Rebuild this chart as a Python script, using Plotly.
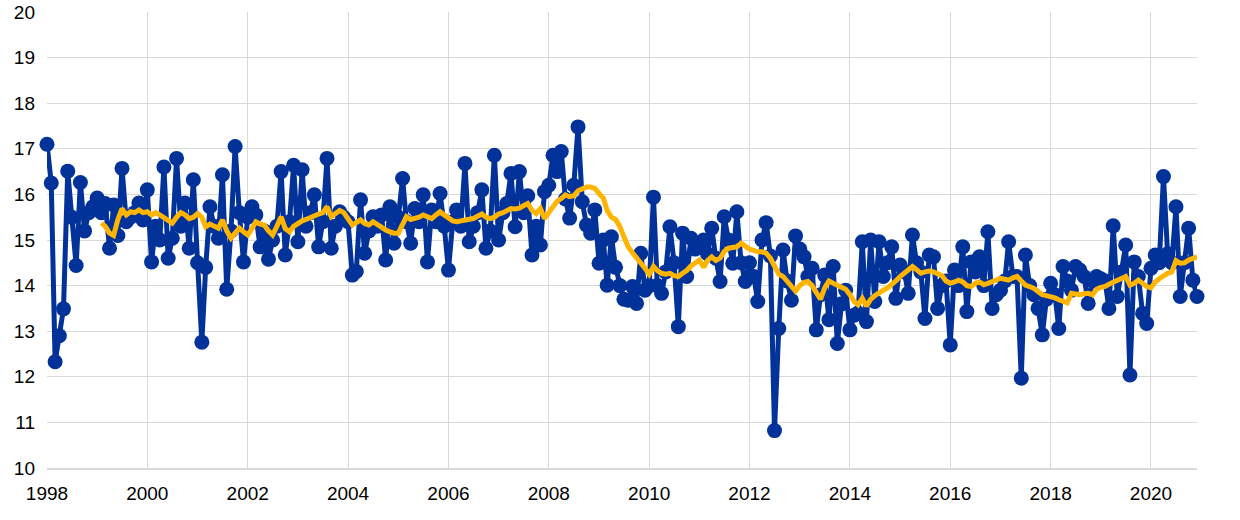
import plotly.graph_objects as go
import pandas as pd

# Monthly observations, Jan 1998 - Dec 2020
series_values = [
    # 1998
    17.1, 16.25, 12.33, 12.9, 13.49, 16.51, 15.5, 14.44, 16.26, 15.2, 15.6, 15.73,
    # 1999
    15.92, 15.6, 15.8, 14.82, 15.77, 15.1, 16.57, 15.4, 15.5, 15.6, 15.81, 15.44,
    # 2000
    16.1, 14.52, 15.3, 15.0, 16.6, 14.6, 15.04, 16.79, 15.3, 15.81, 14.82, 16.32,
    # 2001
    14.5, 12.76, 14.4, 15.73, 15.3, 15.04, 16.43, 13.92, 15.2, 17.05, 15.6, 14.52,
    # 2002
    15.5, 15.73, 15.55, 14.85, 15.2, 14.58, 15.0, 15.3, 16.5, 14.67, 15.4, 16.64,
    # 2003
    14.96, 16.54, 15.3, 15.6, 15.99, 14.85, 15.4, 16.79, 14.82, 15.3, 15.62, 15.5,
    # 2004
    15.4, 14.23, 14.31, 15.88, 14.71, 15.2, 15.51, 15.3, 15.55, 14.56, 15.73, 14.93,
    # 2005
    15.5, 16.35, 15.4, 14.93, 15.69, 15.4, 15.99, 14.52, 15.66, 15.4, 16.02, 15.3,
    # 2006
    14.34, 15.4, 15.66, 15.3, 16.68, 14.96, 15.3, 15.6, 16.1, 14.82, 15.2, 16.86,
    # 2007
    15.0, 15.6, 15.8, 16.46, 15.29, 16.5, 15.6, 15.97, 14.67, 15.3, 14.89, 16.06,
    # 2008
    16.2, 16.86, 16.5, 16.94, 15.9, 15.48, 16.2, 17.48, 15.84, 15.33, 15.15, 15.66,
    # 2009
    14.49, 15.0, 14.01, 15.07, 14.4, 14.0, 13.7, 13.68, 13.98, 13.61, 14.71, 13.9,
    # 2010
    14.0, 15.94, 14.0, 13.83, 14.3, 15.29, 14.5, 13.1, 15.15, 14.2, 15.04, 14.8,
    # 2011
    14.9, 15.0, 14.7, 15.26, 14.6, 14.09, 15.51, 15.0, 14.49, 15.62, 14.5, 14.09,
    # 2012
    14.5, 14.2, 13.65, 15.0, 15.38, 14.65, 10.82, 13.06, 14.78, 14.1, 13.68, 15.09,
    # 2013
    14.8, 14.63, 14.2, 14.38, 13.03, 13.8, 14.23, 13.25, 14.42, 12.73, 13.6, 13.9,
    # 2014
    13.03, 13.35, 13.4, 14.96, 13.21, 15.0, 13.65, 14.96, 14.2, 14.5, 14.85, 13.72,
    # 2015
    14.45, 14.3, 13.83, 15.11, 14.5, 14.3, 13.28, 14.67, 14.63, 13.5, 14.0, 14.1,
    # 2016
    12.7, 14.34, 14.0, 14.85, 13.43, 14.52, 14.3, 14.63, 14.0, 15.18, 13.5, 13.8,
    # 2017
    13.9, 14.1, 14.96, 14.2, 14.2, 11.97, 14.67, 14.0, 13.8, 13.5, 12.92, 13.7,
    # 2018
    14.05, 13.8, 13.06, 14.42, 14.1, 13.9, 14.42, 14.34, 14.2, 13.61, 14.1, 14.2,
    # 2019
    14.15, 14.1, 13.5, 15.31, 13.76, 14.3, 14.89, 12.04, 14.52, 14.2, 13.39, 13.17,
    # 2020
    14.38, 14.67, 14.5, 16.39, 14.7, 14.5, 15.73, 13.76, 14.5, 15.26, 14.12, 13.76,
]

# Smoothed series (starts Feb 1999)
average_values = [None] * 13 + [
    15.37, 15.3, 15.15, 15.1, 15.45, 15.69, 15.55, 15.62, 15.6, 15.66, 15.6,
    15.62, 15.55, 15.6, 15.55, 15.5, 15.45, 15.37, 15.5, 15.6, 15.55, 15.47, 15.5,
    15.58, 15.5, 15.29, 15.35, 15.3, 15.26, 15.44, 15.2, 15.04, 15.15, 15.26, 15.18,
    15.11, 15.25, 15.4, 15.35, 15.33, 15.2, 15.11, 15.3, 15.51, 15.25, 15.18, 15.3,
    15.37, 15.42, 15.45, 15.5, 15.55, 15.57, 15.6, 15.73, 15.51, 15.58, 15.65, 15.6,
    15.45, 15.33, 15.38, 15.44, 15.36, 15.33, 15.4, 15.33, 15.26, 15.22, 15.18, 15.15,
    15.15, 15.35, 15.51, 15.45, 15.47, 15.5, 15.55, 15.5, 15.47, 15.55, 15.62, 15.55,
    15.47, 15.42, 15.4, 15.42, 15.44, 15.46, 15.47, 15.52, 15.57, 15.5, 15.47, 15.5,
    15.57, 15.6, 15.65, 15.69, 15.68, 15.7, 15.75, 15.8, 15.65, 15.58, 15.69, 15.47,
    15.6, 15.73, 15.85, 15.91, 15.99, 15.95, 15.97, 16.08, 16.13, 16.16, 16.16, 16.13,
    16.02, 15.92, 15.65, 15.5, 15.45, 15.3, 15.07, 14.85, 14.72, 14.62, 14.52, 14.38,
    14.25, 14.42, 14.33, 14.27, 14.25, 14.27, 14.22, 14.2, 14.27, 14.33, 14.43, 14.5,
    14.56, 14.4, 14.55, 14.63, 14.55, 14.6, 14.75, 14.82, 14.84, 14.85, 14.93, 14.85,
    14.8, 14.77, 14.74, 14.74, 14.71, 14.6, 14.42, 14.25, 14.2, 14.1, 14.0, 13.88,
    14.0, 14.07, 14.09, 14.0, 13.85, 13.7, 13.95, 14.1, 14.05, 14.0, 13.96, 13.92,
    13.8, 13.65, 13.58, 13.72, 13.55, 13.7, 13.78, 13.85, 13.9, 13.95, 14.01, 14.1,
    14.2, 14.27, 14.35, 14.42, 14.35, 14.27, 14.3, 14.32, 14.3, 14.25, 14.22, 14.1,
    14.05, 14.08, 14.12, 14.08, 14.0, 13.98, 14.05, 14.08, 14.02, 14.05, 14.09, 14.12,
    14.16, 14.14, 14.12, 14.17, 14.2, 14.1, 14.01, 13.98, 13.94, 13.87, 13.8, 13.78,
    13.76, 13.73, 13.69, 13.65, 13.62, 13.83, 13.82, 13.8, 13.82, 13.83, 13.8, 13.92,
    13.96, 13.98, 14.03, 14.08, 14.12, 14.16, 14.2, 14.01, 14.05, 14.12, 14.05, 13.98,
    13.95, 14.08, 14.15, 14.22, 14.27, 14.3, 14.55, 14.49, 14.5, 14.56, 14.6, 14.63,
]

dates = pd.date_range("1998-01-01", periods=len(series_values), freq="MS")
tick_labels = [str(y) for y in range(1998, 2021, 2)]
tick_dates = [f"{y}-01-01" for y in range(1998, 2021, 2)]

BLUE = "#003299"
YELLOW = "#FFB400"
GRID = "#d9d9d9"
FONT = "Liberation Sans, Arial, sans-serif"

fig = go.Figure()
fig.add_trace(go.Scatter(
    x=dates, y=series_values, mode="lines+markers",
    line=dict(color=BLUE, width=5),
    marker=dict(color=BLUE, size=15),
    showlegend=False, cliponaxis=False,
))
fig.add_trace(go.Scatter(
    x=dates, y=average_values, mode="lines",
    line=dict(color=YELLOW, width=5),
    connectgaps=False, showlegend=False,
))

fig.update_layout(
    width=1240, height=520,
    margin=dict(l=47, r=43, t=12, b=52),
    paper_bgcolor="white", plot_bgcolor="white",
    font=dict(family=FONT, size=19, color="#000000"),
)
fig.update_xaxes(
    type="date", range=["1998-01-01", "2020-12-01"],
    tickvals=tick_dates, ticktext=tick_labels,
    showgrid=True, gridcolor=GRID, gridwidth=1,
    showline=True, linecolor=GRID, linewidth=2,
    ticks="", ticklabelstandoff=7, zeroline=False, automargin=False,
)
fig.update_yaxes(
    range=[10, 20], dtick=1, tick0=10,
    showgrid=True, gridcolor=GRID, gridwidth=1,
    showline=False, ticks="", ticklabelstandoff=11, zeroline=False,
    automargin=False,
)

fig.write_html(
    "out.html",
    config={"displayModeBar": False},
    post_script="document.body.style.margin='0';document.body.style.overflow='hidden';",
)
